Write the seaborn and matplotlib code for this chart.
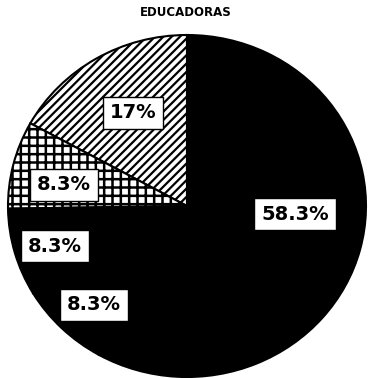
import matplotlib
matplotlib.use("Agg")
import matplotlib.pyplot as plt
import seaborn as sns

# data
labels = ["17%", "8.3%", "8.3%", "8.3%", "58.3%"]
values = [17, 8.3, 8.3, 8.3, 58.3]
hatches = ["////", "++", "", "", ""]
hatch_lw = [1.6, 1.8, 1, 1, 1]
colors = ["white", "white", "black", "black", "black"]

# label box centres in pixels (x, y from top)
label_px = [(133, 113), (64, 185), (55, 246), (94, 305), (295, 214)]

sns.set_style("white")
plt.rcParams["font.family"] = ["DejaVu Sans"]
plt.rcParams["hatch.linewidth"] = 1.8
plt.rcParams["hatch.color"] = "black"

W, H = 371, 378
fig = plt.figure(figsize=(W / 100, H / 100), dpi=100)
ax = fig.add_axes([0, 0, 1, 1])

wedges, _ = ax.pie(values, colors=colors, startangle=90, counterclock=True,
                   wedgeprops=dict(edgecolor="black", linewidth=1.5))
for w, h, lw in zip(wedges, hatches, hatch_lw):
    if h:
        w.set_hatch(h)
        if hasattr(w, "set_hatch_linewidth"):
            w.set_hatch_linewidth(lw)

# pie is slightly wider than tall in the scan
cx, cy, rx, ry = 187, 206, 179, 171
ax.set_aspect("auto")
ax.set_xlim(-cx / rx, (W - cx) / rx)
ax.set_ylim(-(H - cy) / ry, cy / ry)
ax.axis("off")

for lab, (px, py) in zip(labels, label_px):
    fig.text(px / W, 1 - py / H, lab, ha="center", va="center",
             fontsize=14, fontweight="heavy", color="black",
             bbox=dict(boxstyle="square,pad=0.35", facecolor="white",
                       edgecolor="black", linewidth=1))

fig.text(0.5, 1 - 12 / H, "EDUCADORAS", ha="center", va="center",
         fontsize=8.5, fontweight="heavy", color="black")

fig.savefig("out.png", dpi=100, facecolor="white")
